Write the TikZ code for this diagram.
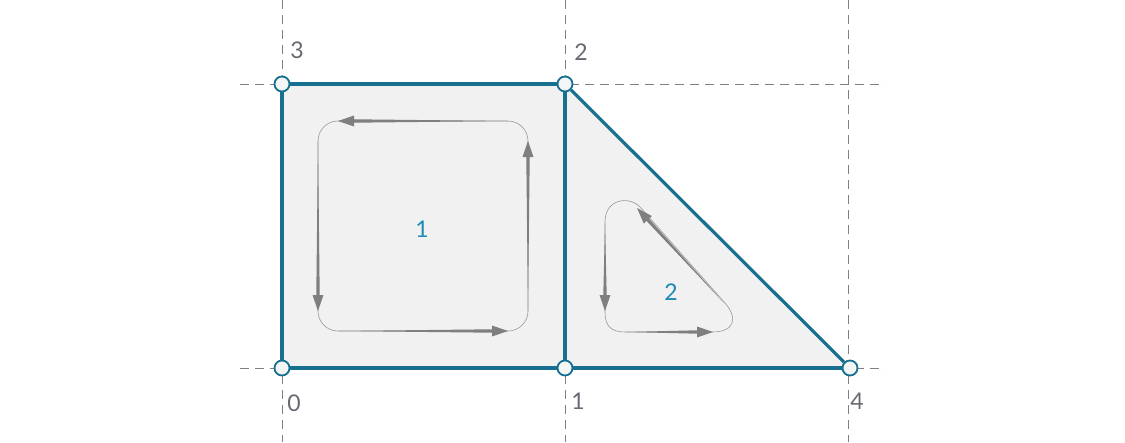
\documentclass[tikz,border=0pt]{standalone}
\usepackage{fontspec}
\setmainfont{Lato}
\usetikzlibrary{calc,positioning}

\definecolor{edgeblue}{HTML}{17708F}
\definecolor{facelabel}{HTML}{1C8BB3}
\definecolor{numgray}{HTML}{686873}
\definecolor{facefill}{HTML}{F1F1F1}
\definecolor{vertexfill}{HTML}{F2F6F7}
\definecolor{flowgray}{HTML}{7F7F7F}

% tapered flow arrow from #1 to tip #2
\newcommand{\flowarrow}[2]{%
  \path (#2) coordinate (fe) ($(#2)!16pt!(#1)$) coordinate (fh);
  \fill[flowgray] (#1) -- ($(fh)!1.7pt!90:(fe)$) -- ($(fh)!5.5pt!90:(fe)$)
    -- (fe) -- ($(fh)!5.5pt!-90:(fe)$) -- ($(fh)!1.7pt!-90:(fe)$) -- cycle;
}

\begin{document}
\begin{tikzpicture}[x=1pt, y=-1pt]
    \tikzstyle{vertex} = [circle, draw=edgeblue, line width=1.8pt, fill=vertexfill, minimum size=15pt, inner sep=0pt]
    \tikzstyle{edge} = [draw=edgeblue, line width=3.2pt]
    \tikzstyle{guide} = [draw=numgray!85, line width=0.9pt, dash pattern=on 9pt off 6pt]
    \tikzstyle{num} = [text=numgray, font=\fontsize{23}{26}\selectfont]
    \tikzstyle{facenum} = [text=facelabel, font=\fontsize{23}{26}\selectfont]
    \tikzstyle{loopline} = [draw=flowgray!80, line width=0.6pt]

    \useasboundingbox (0,0) rectangle (1125,442);

    % guide lines
    \draw [guide] (282,0) -- (282,442);
    \draw [guide] (565,0) -- (565,442);
    \draw [guide] (848,0) -- (848,442);
    \draw [guide] (240,84) -- (885,84);
    \draw [guide] (240,368) -- (885,368);

    % faces
    \fill [facefill] (282,368) -- (849,368) -- (565,84) -- (282,84) -- cycle;

    % loops
    \draw [loopline, rounded corners=20pt] (318,121) rectangle (528,331);
    \flowarrow{508,121}{338,121}
    \flowarrow{318,141}{318,311}
    \flowarrow{338,331}{508,331}
    \flowarrow{528,311}{528,141}

    \draw [loopline] (605,222) -- (605,312) .. controls (605,326) and (611,332) .. (625,332)
        -- (712,332) .. controls (735,332) and (738,318) .. (725,303)
        -- (640,207) .. controls (630,196) and (605,198) .. cycle;
    \flowarrow{605,224}{605,311}
    \flowarrow{626,332}{713,332}
    \flowarrow{724,303}{637,208}

    \node [facenum] (f1) at (422,229) {1};
    \node [facenum] (f2) at (671,292) {2};

    % vertices
    \node [vertex] (v0) at (282,368) {};
    \node [vertex] (v1) at (565,368) {};
    \node [vertex] (v2) at (565,84) {};
    \node [vertex] (v3) at (282,84) {};
    \node [vertex] (v4) at (850,368) {};

    \draw [edge] (v0) -- (v1);
    \draw [edge] (v1) -- (v4);
    \draw [edge] (v4) -- (v2);
    \draw [edge] (v2) -- (v3);
    \draw [edge] (v3) -- (v0);
    \draw [edge] (v1) -- (v2);

    \node [num] (n0) at (294,403) {0};
    \node [num] (n1) at (578,401) {1};
    \node [num] (n2) at (581,52) {2};
    \node [num] (n3) at (297,50) {3};
    \node [num] (n4) at (857,401) {4};
\end{tikzpicture}
\end{document}
